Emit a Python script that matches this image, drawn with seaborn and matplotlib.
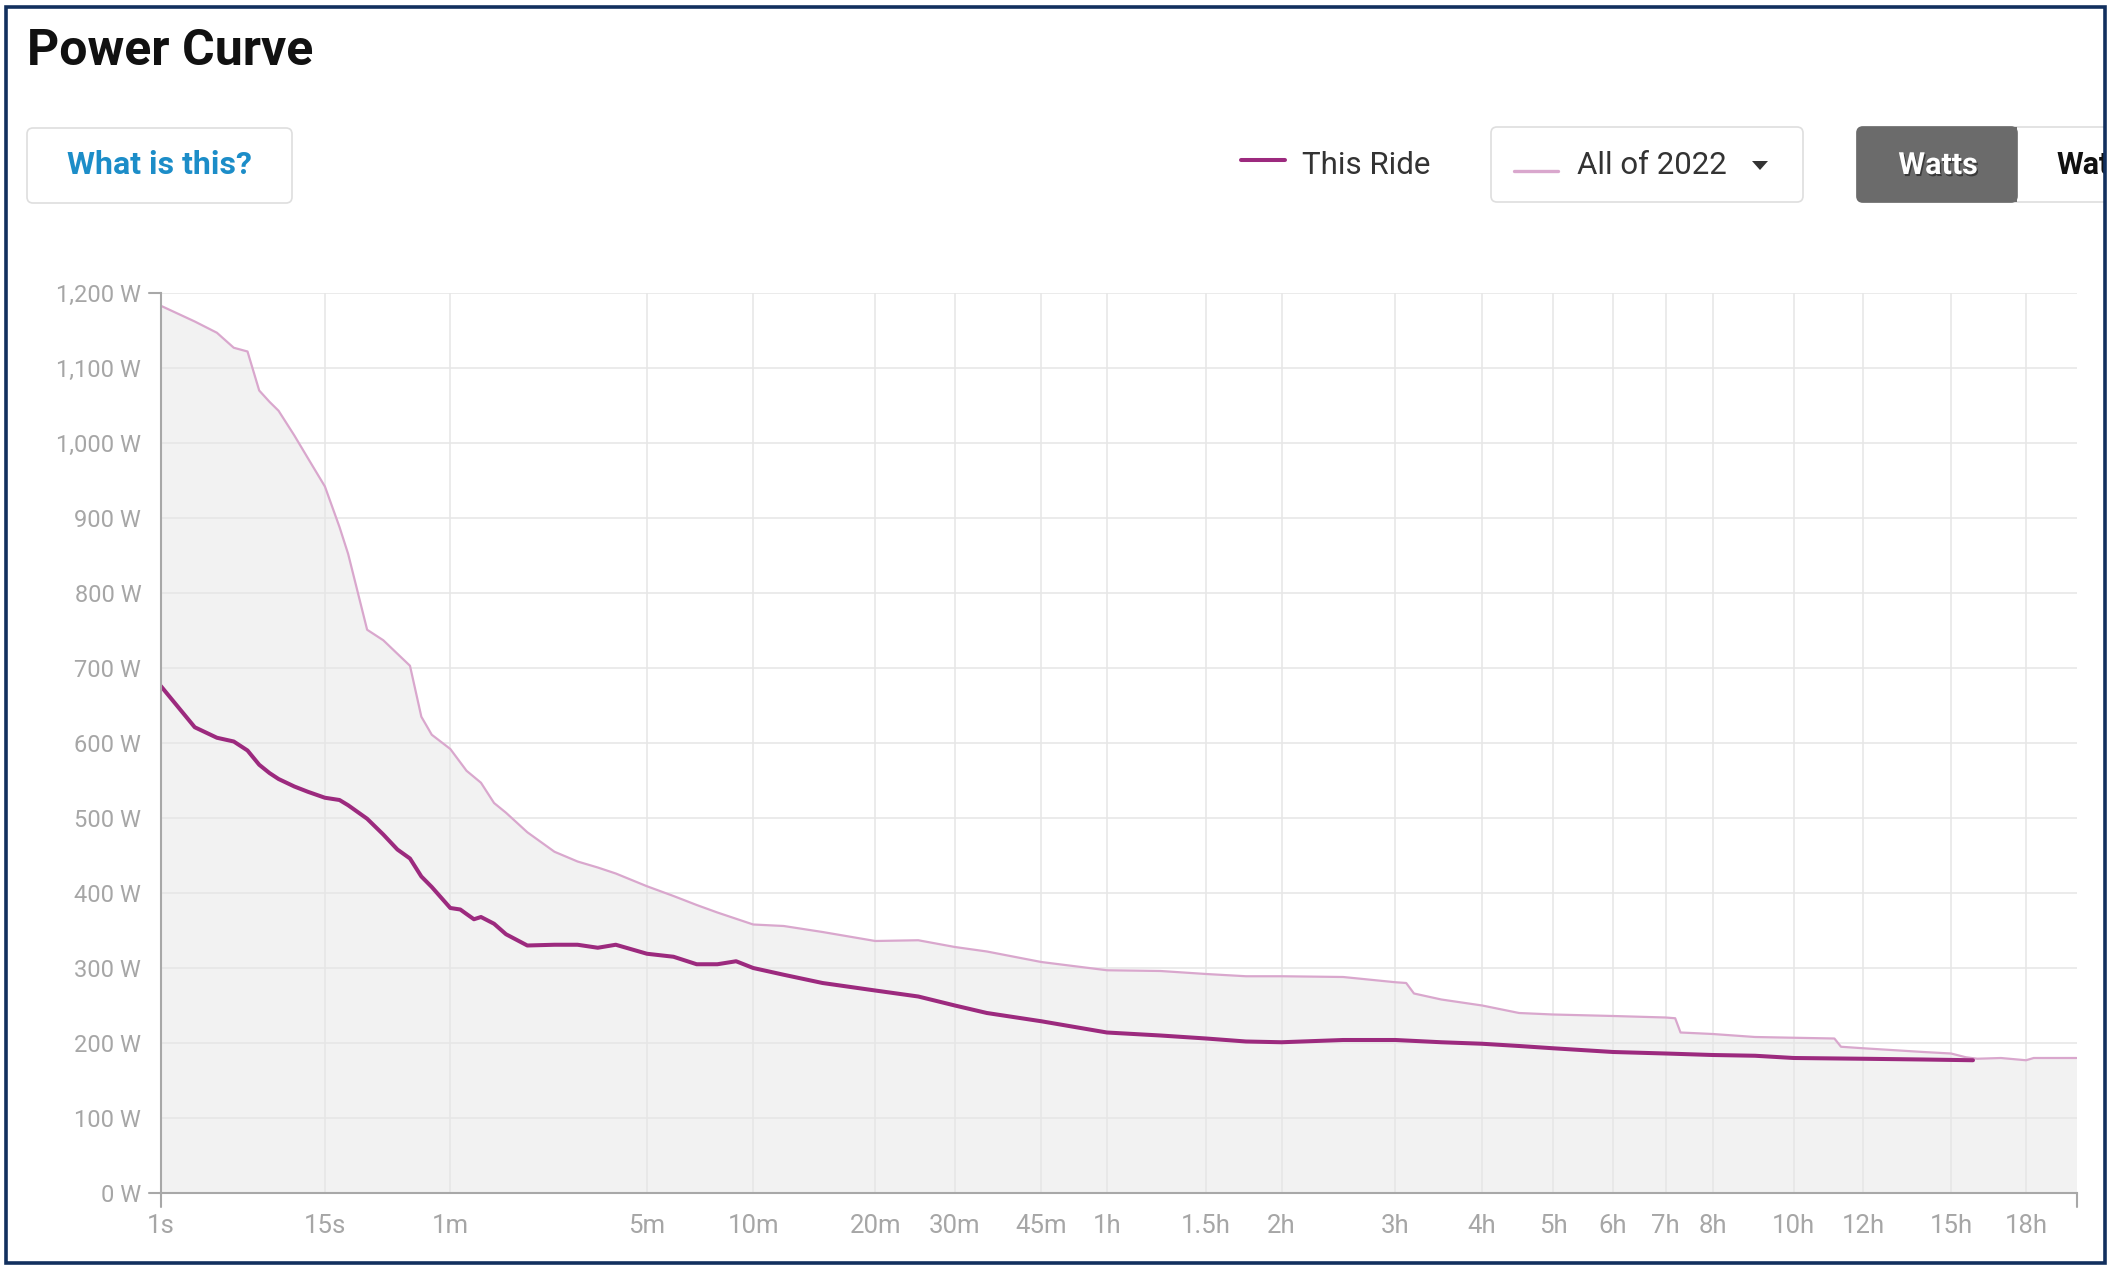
import numpy as np
import pandas as pd
import matplotlib
matplotlib.use("Agg")
import matplotlib.pyplot as plt
import seaborn as sns
from matplotlib.patches import FancyBboxPatch, Rectangle, Polygon
from matplotlib.lines import Line2D
import matplotlib.patheffects as pe

# ---------------- data ----------------
durations_all = [1, 2, 3, 4, 5, 6, 7, 8, 10, 12, 15, 18, 20, 25, 30, 35, 40, 45, 50,
                 60, 70, 80, 90, 100, 120, 150, 180, 210, 240, 300, 360, 420, 480,
                 600, 720, 900, 1200, 1500, 1800, 2100, 2700, 3600, 4500, 5400, 6300,
                 7200, 9000, 10800, 11200, 11500, 12600, 14400, 16200, 18000, 21600,
                 25200, 25900, 26300, 28800, 32400, 36000, 40100, 40800, 43200, 50400,
                 54000, 56000, 57600, 61000, 64800, 66000, 73000]
watts_all = [1183, 1162, 1147, 1127, 1122, 1070, 1055, 1043, 1010, 980, 942, 888, 852,
             751, 737, 719, 703, 635, 611, 592, 563, 547, 520, 507, 481, 455, 442, 434,
             426, 409, 396, 384, 374, 358, 356, 348, 336, 337, 328, 322, 308, 297, 296,
             292, 289, 289, 288, 281, 280, 266, 258, 250, 240, 238, 236, 234, 233, 214,
             212, 208, 207, 206, 195, 193, 188, 186, 181, 179, 180, 177, 180, 180]

durations_ride = [1, 2, 3, 4, 5, 6, 7, 8, 10, 12, 15, 18, 20, 25, 30, 35, 40, 45, 50,
                  60, 66, 70, 75, 80, 90, 100, 120, 150, 180, 210, 240, 300, 360, 420,
                  480, 540, 600, 720, 900, 1200, 1500, 1800, 2100, 2700, 3600, 4500,
                  5400, 6300, 7200, 9000, 10800, 12600, 14400, 16200, 18000, 21600,
                  25200, 28800, 32400, 36000, 43200, 50400, 57000]
watts_ride = [676, 621, 607, 602, 590, 571, 560, 552, 542, 535, 527, 524, 517, 499, 478,
              458, 446, 422, 408, 380, 378, 372, 365, 368, 359, 345, 330, 331, 331, 327,
              331, 319, 315, 305, 305, 309, 300, 291, 280, 270, 262, 250, 240, 229, 214,
              210, 206, 202, 201, 204, 204, 201, 199, 196, 193, 188, 186, 184, 183, 180,
              179, 178, 177]

tick_seconds = [1, 15, 60, 300, 600, 1200, 1800, 2700, 3600, 5400, 7200, 10800, 14400,
                18000, 21600, 25200, 28800, 36000, 43200, 54000, 64800]
tick_labels = ["1s", "15s", "1m", "5m", "10m", "20m", "30m", "45m", "1h", "1.5h", "2h",
               "3h", "4h", "5h", "6h", "7h", "8h", "10h", "12h", "15h", "18h"]
y_ticks = list(range(0, 1300, 100))
x_max = 73000

# ---------------- style ----------------
sns.set_theme(style="white")
plt.rcParams['font.family'] = ['Roboto', 'DejaVu Sans']

DARK = "#9c2a7e"
LIGHT = "#d9a7cd"
FILL = "#f2f2f2"
GRID = "#e6e6e6"
AXIS = "#a8a8a8"
LABEL = "#a6a6a6"

W, H = 2118, 1276
fig = plt.figure(figsize=(W / 100, H / 100), dpi=100)
fig.patch.set_facecolor("white")

def fx(x):
    return x / W

def fy(y):
    return 1 - y / H

ax_left, ax_right, ax_top, ax_bottom = 160.8, 2076.5, 293.0, 1193.0
ax = fig.add_axes([ax_left / W, (H - ax_bottom) / H, (ax_right - ax_left) / W,
                   (ax_bottom - ax_top) / H])

ax.set_xscale('function', functions=(lambda t: np.power(np.maximum(t, 1e-9), 0.2),
                                     lambda v: np.power(np.maximum(v, 0), 5)))

df_all = pd.DataFrame({"duration": durations_all, "watts": watts_all})
df_ride = pd.DataFrame({"duration": durations_ride, "watts": watts_ride})

ax.fill_between(df_all["duration"], 0, df_all["watts"], color=FILL, lw=0, zorder=0.3)
sns.lineplot(data=df_all, x="duration", y="watts", ax=ax, color=LIGHT, linewidth=1.6,
             estimator=None, sort=True, legend=False, zorder=3)
sns.lineplot(data=df_ride, x="duration", y="watts", ax=ax, color=DARK, linewidth=2.9,
             estimator=None, sort=True, legend=False, zorder=4)

ax.set_xlim(1, x_max)
ax.set_ylim(0, 1200)
ax.set_xticks(tick_seconds)
ax.set_xticklabels(tick_labels)
ax.set_yticks(y_ticks)
ax.set_yticklabels([f"{v:,} W" for v in y_ticks])
ax.set_xlabel("")
ax.set_ylabel("")
ax.minorticks_off()
ax.set_axisbelow(True)
ax.grid(True, color=GRID, lw=1.1, zorder=0.5)
ax.tick_params(axis="both", length=0, colors=LABEL)
ax.tick_params(axis="y", pad=14, labelsize=17)
ax.tick_params(axis="x", pad=15, labelsize=18.5)
for s in ["top", "right"]:
    ax.spines[s].set_visible(False)
for s in ["left", "bottom"]:
    ax.spines[s].set_color(AXIS)
    ax.spines[s].set_linewidth(1.5)
    ax.spines[s].set_zorder(5)
ax.set_facecolor("white")

# outer ticks (d3-style domain ends)
axw = ax_right - ax_left
axh = ax_bottom - ax_top
for yy in (0, 1):
    ax.add_line(Line2D([-12 / axw, 0], [yy, yy], transform=ax.transAxes, color=AXIS,
                       lw=1.5, clip_on=False, zorder=5))
for xx in (0, 1):
    ax.add_line(Line2D([xx, xx], [0, -14 / axh], transform=ax.transAxes, color=AXIS,
                       lw=1.5, clip_on=False, zorder=5))

# ---------------- header ----------------
def box(x0, y0, x1, y1, fc="white", ec="#dedede", r=6, z=2, lw=1.2):
    p = FancyBboxPatch((x0 / 100, (H - y1) / 100), (x1 - x0) / 100, (y1 - y0) / 100,
                       boxstyle=f"round,pad=0,rounding_size={r / 100}",
                       transform=fig.dpi_scale_trans, fc=fc, ec=ec, lw=lw, zorder=z)
    fig.add_artist(p)
    return p

fig.text(fx(27), fy(65), "Power Curve", fontsize=36, fontweight="bold",
         color="#111111", ha="left", va="baseline", family=["Roboto", "DejaVu Sans"])

box(27, 128, 292, 203)
fig.text(fx(159.5), fy(174), "What is this?", fontsize=23, fontweight="bold",
         color="#1c8dc8", ha="center", va="baseline")

fig.add_artist(Line2D([fx(1241), fx(1285)], [fy(160), fy(160)], color=DARK, lw=2.9))
fig.text(fx(1302), fy(174), "This Ride", fontsize=22.5, color="#333333",
         ha="left", va="baseline")

box(1491, 127, 1803, 202)
fig.add_artist(Line2D([fx(1514), fx(1558)], [fy(171), fy(171)], color=LIGHT, lw=2.4))
fig.text(fx(1577), fy(174), "All of 2022", fontsize=22.5, color="#333333",
         ha="left", va="baseline")
fig.add_artist(Polygon([[1752 / 100, (H - 161) / 100], [1768 / 100, (H - 161) / 100],
                        [1760 / 100, (H - 170) / 100]], closed=True,
                       transform=fig.dpi_scale_trans, fc="#333333", ec="none", zorder=3))

box(1857, 127, 2160, 202, z=2)
box(1857, 127, 2017, 202, fc="#6b6b6b", ec="#6b6b6b", z=2.5)
fig.add_artist(Rectangle((1995 / 100, (H - 202) / 100), 22 / 100, 75 / 100,
                         transform=fig.dpi_scale_trans, fc="#6b6b6b", ec="none",
                         zorder=2.6))
t = fig.text(fx(1938), fy(174), "Watts", fontsize=22, fontweight="bold",
             color="white", ha="center", va="baseline", zorder=4)
t.set_path_effects([pe.withSimplePatchShadow(offset=(1, -1.5), shadow_rgbFace="black",
                                             alpha=0.45)])
fig.text(fx(2056), fy(174), "Watts/kg", fontsize=22, fontweight="bold",
         color="#111111", ha="left", va="baseline", zorder=4)

# mask outside the frame and draw the frame
fig.add_artist(Rectangle((2106 / 100, 0), 20 / 100, H / 100, transform=fig.dpi_scale_trans,
                         fc="white", ec="none", zorder=10))
fig.add_artist(Rectangle((5.5 / 100, (H - 1263) / 100), (2105 - 5.5) / 100,
                         (1263 - 7) / 100, transform=fig.dpi_scale_trans, fill=False,
                         ec="#12305e", lw=2.6, zorder=11))

fig.savefig("out.png", dpi=100, facecolor="white")
